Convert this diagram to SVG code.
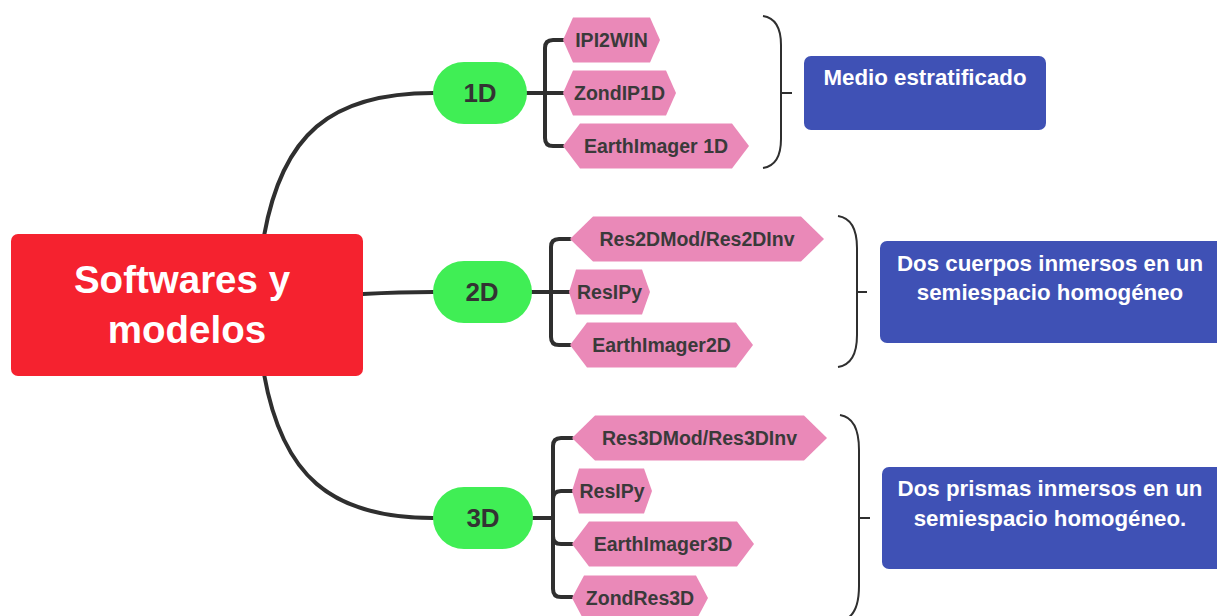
<svg xmlns="http://www.w3.org/2000/svg" width="1217" height="616" viewBox="0 0 1217 616">
<style>
.conn{fill:none;stroke:#2f2f2f;stroke-width:4;stroke-linecap:round;stroke-linejoin:round}
.brace{fill:none;stroke:#2f2f2f;stroke-width:2}
.root{fill:#f5222f}
.lvl{fill:#40ee55}
.sw{fill:#ea89b8}
.blue{fill:#3f51b5}
.rt{font-family:"Liberation Sans",Arial,sans-serif;font-weight:bold;font-size:38.5px;fill:#fff;text-anchor:middle}
.lt{font-family:"Liberation Sans",Arial,sans-serif;font-weight:bold;font-size:26px;fill:#333;text-anchor:middle}
.st{font-family:"Liberation Sans",Arial,sans-serif;font-weight:bold;font-size:19.5px;fill:#3a3a3a;text-anchor:middle}
.bt{font-family:"Liberation Sans",Arial,sans-serif;font-weight:bold;font-size:22.3px;fill:#fff;text-anchor:middle}
</style>
<rect width="1217" height="616" fill="#fff"/>
<g id="connectors">
<path class="conn" d="M264,236 C282,135 330,93 433,93"/>
<path class="conn" d="M363,294 Q400,292 433,292"/>
<path class="conn" d="M264,374 C282,475 330,518 433,518"/>
<path class="conn" d="M527,93 H563 M563,40 H553 Q545,40 545,48 V138 Q545,146 553,146 H563"/>
<path class="conn" d="M532,292 H569 M570,239 H559 Q551,239 551,247 V337 Q551,345 559,345 H570"/>
<path class="conn" d="M533,518 H553 M572,438 H561 Q553,438 553,446 V589 Q553,597 561,597 H572 M553,499 Q553,491 561,491 H572 M553,536 Q553,544 561,544 H572"/>
<path class="brace" d="M763,16 C776,18 781,28 781,45 V139 C781,156 776,166 763,168 M781,93 H792"/>
<path class="brace" d="M838,216 C851,218 857,230 857,248 V335 C857,353 851,365 838,367 M857,292 H867"/>
<path class="brace" d="M840,415 C853,417 859,430 859,450 V586 C859,606 853,619 840,621 M859,518 H870"/>
</g>
<g id="root">
<rect class="root" x="11" y="234" width="352" height="142" rx="7"/>
<text class="rt" x="182" y="293">Softwares y</text>
<text class="rt" x="187" y="343">modelos</text>
</g>
<g id="n1d">
<rect class="lvl" x="433" y="62" width="94" height="62" rx="31"/>
<text class="lt" x="480" y="102">1D</text>
</g>
<g id="n2d">
<rect class="lvl" x="433" y="261" width="99" height="62" rx="31"/>
<text class="lt" x="482" y="301">2D</text>
</g>
<g id="n3d">
<rect class="lvl" x="433" y="487" width="100" height="62" rx="31"/>
<text class="lt" x="483" y="527">3D</text>
</g>
<g id="ipi2win">
<polygon class="sw" points="563,40 573,17.5 650,17.5 660,40 650,62.5 573,62.5"/>
<text class="st" x="611.5" y="47">IPI2WIN</text>
</g>
<g id="zondip1d">
<polygon class="sw" points="563,93 573,70.5 666,70.5 676,93 666,115.5 573,115.5"/>
<text class="st" x="619.5" y="100">ZondIP1D</text>
</g>
<g id="earth1d">
<polygon class="sw" points="563,146 580,123.5 732,123.5 749,146 732,168.5 580,168.5"/>
<text class="st" x="656" y="153">EarthImager 1D</text>
</g>
<g id="res2d">
<polygon class="sw" points="570,239 593,216.5 801,216.5 824,239 801,261.5 593,261.5"/>
<text class="st" x="697" y="246">Res2DMod/Res2DInv</text>
</g>
<g id="resipy2d">
<polygon class="sw" points="569,292 576,269.5 642,269.5 650,292 642,314.5 576,314.5"/>
<text class="st" x="609.5" y="299">ResIPy</text>
</g>
<g id="earth2d">
<polygon class="sw" points="570,345 587,322.5 736,322.5 753,345 736,367.5 587,367.5"/>
<text class="st" x="661.5" y="352">EarthImager2D</text>
</g>
<g id="res3d">
<polygon class="sw" points="572,438 595,415.5 804,415.5 827,438 804,460.5 595,460.5"/>
<text class="st" x="699.5" y="445">Res3DMod/Res3DInv</text>
</g>
<g id="resipy3d">
<polygon class="sw" points="572,491 579,468.5 644,468.5 652,491 644,513.5 579,513.5"/>
<text class="st" x="612" y="498">ResIPy</text>
</g>
<g id="earth3d">
<polygon class="sw" points="572,544 589,521.5 737,521.5 754,544 737,566.5 589,566.5"/>
<text class="st" x="663" y="551">EarthImager3D</text>
</g>
<g id="zondres3d">
<polygon class="sw" points="572,598 584,575.5 696,575.5 708,598 696,620.5 584,620.5"/>
<text class="st" x="640" y="605">ZondRes3D</text>
</g>
<g id="desc1d">
<rect class="blue" x="804" y="56" width="242" height="74" rx="7"/>
<text class="bt" x="925" y="85">Medio estratificado</text>
</g>
<g id="desc2d">
<rect class="blue" x="880" y="241" width="345" height="102" rx="7"/>
<text class="bt" x="1050" y="271">Dos cuerpos inmersos en un</text>
<text class="bt" x="1050" y="300">semiespacio homogéneo</text>
</g>
<g id="desc3d">
<rect class="blue" x="882" y="467" width="345" height="102" rx="7"/>
<text class="bt" x="1050" y="496">Dos prismas inmersos en un</text>
<text class="bt" x="1050" y="526">semiespacio homogéneo.</text>
</g>
</svg>
